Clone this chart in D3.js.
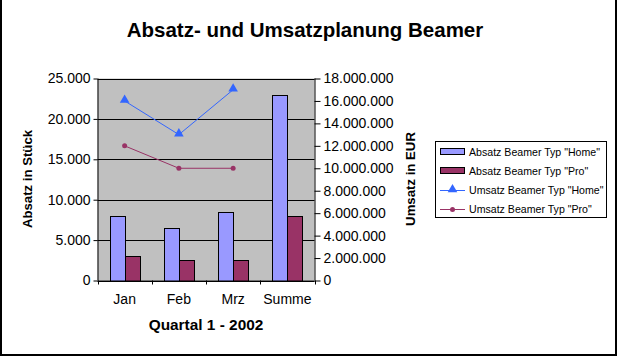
<!DOCTYPE html>
<html><head><meta charset="utf-8">
<script src="https://cdn.jsdelivr.net/npm/d3@7"></script>
<style>body{margin:0;background:#fff}svg{display:block;font-family:"Liberation Sans",Arial,sans-serif}</style>
</head><body><svg id="c" width="617" height="356"></svg>
<script>
const categories = ["Jan","Feb","Mrz","Summe"];
const absatzHome = [8000, 6500, 8500, 23000];
const absatzPro = [3000, 2500, 2500, 8000];
const umsatzCats = ["Jan","Feb","Mrz"];
const umsatzHome = [16000000, 13000000, 17000000];
const umsatzPro = [12000000, 10000000, 10000000];
const leftTicks = [0,5000,10000,15000,20000,25000];
const rightTicks = [0,2000000,4000000,6000000,8000000,10000000,12000000,14000000,16000000,18000000];
const seriesNames = ['Absatz Beamer Typ "Home"','Absatz Beamer Typ "Pro"','Umsatz Beamer Typ "Home"','Umsatz Beamer Typ "Pro"'];

const cHome = "#9999ff", cPro = "#993366", cLineHome = "#3366ff", cLinePro = "#993366";
const svg = d3.select("#c");
const loc = d3.formatLocale({decimal:",",thousands:".",grouping:[3],currency:["","€"]});
const fmt = loc.format(",d");

const L = 97.5, R = 314.5, T = 78.5, B = 280.5;
const x0 = d3.scaleBand().domain(categories).range([L,R]).padding(0);
const x1 = d3.scaleBand().domain(["home","pro"]).range([12, x0.bandwidth()-12]);
const yL = d3.scaleLinear().domain([0,25000]).range([B,T]);
const yR = d3.scaleLinear().domain([0,18000000]).range([B,T]);

// frame
svg.append("rect").attr("x",0).attr("y",354).attr("width",617).attr("height",2).attr("fill","#000");
svg.append("rect").attr("x",0).attr("y",0).attr("width",2).attr("height",356).attr("fill","#000");
svg.append("rect").attr("x",615).attr("y",0).attr("width",2).attr("height",356).attr("fill","#000");

// plot bg
svg.append("rect").attr("x",L).attr("y",T).attr("width",R-L).attr("height",B-T).attr("fill","#c0c0c0");

// gridlines
svg.append("g").selectAll("line").data(leftTicks).join("line")
  .attr("x1",L).attr("x2",R).attr("y1",d=>Math.round(yL(d))+0.5).attr("y2",d=>Math.round(yL(d))+0.5)
  .attr("stroke","#000");

// bars
const g = svg.append("g");
categories.forEach((c,i)=>{
  [["home",absatzHome[i],cHome],["pro",absatzPro[i],cPro]].forEach(([k,v,col])=>{
    const x = Math.round(x0(c)+x1(k))+0.5;
    const y = Math.round(yL(v))+0.5;
    g.append("rect").attr("x",x).attr("y",y).attr("width",Math.round(x1.bandwidth())).attr("height",Math.round(yL(0))-Math.round(yL(v)))
      .attr("fill",col).attr("stroke","#000").attr("stroke-width",1);
  });
});

// axes
const axL = svg.append("g").attr("transform",`translate(${L},0)`)
  .call(d3.axisLeft(yL).tickValues(leftTicks).tickFormat(fmt).tickSize(4).tickPadding(3));
const axR = svg.append("g").attr("transform",`translate(${R},0)`)
  .call(d3.axisRight(yR).tickValues(rightTicks).tickFormat(fmt).tickSize(6).tickPadding(3));
const axB = svg.append("g").attr("transform",`translate(0,${B})`)
  .call(d3.axisBottom(x0).tickSize(0).tickPadding(14));
// category boundary ticks
svg.append("g").selectAll("line").data(categories.concat(["_end"])).join("line")
  .attr("x1",(d,i)=>Math.round(L+i*x0.bandwidth())+0.5).attr("x2",(d,i)=>Math.round(L+i*x0.bandwidth())+0.5)
  .attr("y1",B).attr("y2",B+4).attr("stroke","#000");
[axL,axR,axB].forEach(a=>{
  a.selectAll("path").attr("stroke","#000");
  a.selectAll("line").attr("stroke","#000");
  a.selectAll("text").attr("font-size","14px").attr("fill","#000").attr("font-family","Liberation Sans, Arial, sans-serif");
});
axL.select(".domain").attr("d",`M0.5,${T}V${B}`);
axR.select(".domain").attr("d",`M0.5,${T}V${B}`);
axB.select(".domain").attr("d",`M${L},0.5H${R}`);

// lines
const xc = d=>x0(d)+x0.bandwidth()/2;
const line = d3.line().x(d=>xc(d[0])).y(d=>yR(d[1]));
const homeData = umsatzCats.map((c,i)=>[c,umsatzHome[i]]);
const proData = umsatzCats.map((c,i)=>[c,umsatzPro[i]]);
svg.append("path").attr("d",line(homeData)).attr("fill","none").attr("stroke",cLineHome).attr("stroke-width",1);
svg.append("path").attr("d",line(proData)).attr("fill","none").attr("stroke",cLinePro).attr("stroke-width",1);
const tri = d3.symbol().type(d3.symbolTriangle).size(40);
svg.append("g").selectAll("path").data(homeData).join("path")
  .attr("transform",d=>`translate(${xc(d[0])},${yR(d[1])-1})`).attr("d",tri()).attr("fill",cLineHome);
svg.append("g").selectAll("circle").data(proData).join("circle")
  .attr("cx",d=>xc(d[0])).attr("cy",d=>yR(d[1])).attr("r",2.5).attr("fill",cLinePro);

// titles
svg.append("text").attr("x",305).attr("y",37).attr("text-anchor","middle").attr("font-size","20.5px").attr("font-weight","bold").text("Absatz- und Umsatzplanung Beamer");
svg.append("text").attr("transform","translate(32,179) rotate(-90)").attr("text-anchor","middle").attr("font-size","13.2px").attr("font-weight","bold").text("Absatz in Stück");
svg.append("text").attr("transform","translate(415,179) rotate(-90)").attr("text-anchor","middle").attr("font-size","13.2px").attr("font-weight","bold").text("Umsatz in EUR");
svg.append("text").attr("x",206).attr("y",330).attr("text-anchor","middle").attr("font-size","15.4px").attr("font-weight","bold").text("Quartal 1 - 2002");

// legend
const lg = svg.append("g");
lg.append("rect").attr("x",435.5).attr("y",141.5).attr("width",171).attr("height",76).attr("fill","#fff").attr("stroke","#000");
const rowsY = [151.5,170.5,190,209];
lg.append("rect").attr("x",440.5).attr("y",148.5).attr("width",24).attr("height",6).attr("fill",cHome).attr("stroke","#000");
lg.append("rect").attr("x",440.5).attr("y",167.5).attr("width",24).attr("height",6).attr("fill",cPro).attr("stroke","#000");
lg.append("line").attr("x1",440).attr("x2",465).attr("y1",rowsY[2]+0.5).attr("y2",rowsY[2]+0.5).attr("stroke",cLineHome);
lg.append("path").attr("transform",`translate(452.5,${rowsY[2]-0.5})`).attr("d",tri()).attr("fill",cLineHome);
lg.append("line").attr("x1",440).attr("x2",465).attr("y1",rowsY[3]+0.5).attr("y2",rowsY[3]+0.5).attr("stroke",cLinePro);
lg.append("circle").attr("cx",452.5).attr("cy",rowsY[3]+0.5).attr("r",2.5).attr("fill",cLinePro);
lg.selectAll("text").data(seriesNames).join("text")
  .attr("x",469).attr("y",(d,i)=>rowsY[i]+4).attr("font-size","10.6px").text(d=>d);
</script></body></html>
